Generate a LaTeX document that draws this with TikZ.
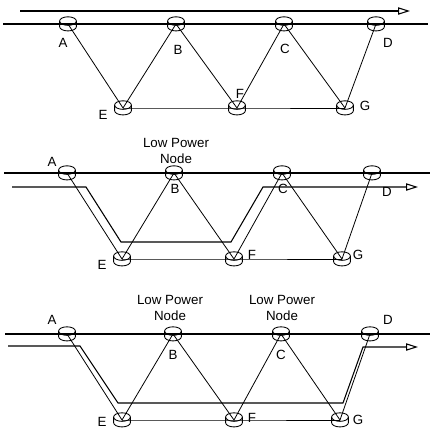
\documentclass[tikz,border=0pt]{standalone}
\usepackage{fontspec}
\setmainfont{Liberation Sans}
\usetikzlibrary{arrows.meta}
\tikzset{
  link/.style={line width=0.6pt, black},
  bus/.style={line width=0.8pt, black},
  route/.style={line width=0.8pt, black, -{Triangle[open, length=9pt, width=5.5pt]}},
  lbl/.style={font=\fontsize{10}{12}\selectfont, inner sep=0pt},
  lp/.style={font=\fontsize{10}{12}\selectfont, align=center, inner sep=0pt},
  puck/.pic={
    \draw[line width=0.65pt, black] (-6.3pt,2.2pt) -- (-6.3pt,-2pt)
      arc[start angle=180, end angle=360, x radius=6.3pt, y radius=3.2pt] -- (6.3pt,2.2pt);
    \draw[line width=0.65pt, black] (0pt,2.2pt) ellipse [x radius=6.3pt, y radius=3.2pt];
  }
}
\begin{document}
\begin{tikzpicture}[x=0.75pt, y=-0.75pt]
\useasboundingbox (0,0) rectangle (433,430);

% ---------- Panel 1 ----------
\coordinate (A1) at (68,24);  \coordinate (B1) at (176,24);
\coordinate (C1) at (284,24); \coordinate (D1) at (376,24);
\coordinate (E1) at (123,108); \coordinate (F1) at (237,108); \coordinate (G1) at (345,108);
\coordinate (L1s) at (3,24); \coordinate (L1e) at (428,24);
\coordinate (R1s) at (20,11); \coordinate (R1e) at (410,11);

\draw[bus] (L1s) -- (L1e);
\draw[route] (R1s) -- (R1e);
\draw[link] (A1) -- (E1) -- (B1) -- (F1) -- (C1) -- (G1) -- (D1);
\draw[link] (E1) -- (F1) -- (G1);
\foreach \n in {A1,B1,C1,D1,E1,F1,G1} \pic at (\n) {puck};

\node[lbl] (tA1) at (63,43) {A};
\node[lbl] (tB1) at (178,50) {B};
\node[lbl] (tC1) at (285,49) {C};
\node[lbl] (tD1) at (388,43) {D};
\node[lbl] (tE1) at (103,115) {E};
\node[lbl] (tF1) at (240,94) {F};
\node[lbl] (tG1) at (365,106) {G};

% ---------- Panel 2 ----------
\coordinate (A2) at (67,173);  \coordinate (B2) at (174,173);
\coordinate (C2) at (282,173); \coordinate (D2) at (372,173);
\coordinate (E2) at (122,259); \coordinate (F2) at (234,259); \coordinate (G2) at (342,259);
\coordinate (L2s) at (4,173); \coordinate (L2e) at (430,173);
\coordinate (P2a) at (12,187); \coordinate (P2b) at (86,187);
\coordinate (P2c) at (121,242); \coordinate (P2d) at (231,242);
\coordinate (P2e) at (263,187); \coordinate (P2f) at (418,187);

\draw[bus] (L2s) -- (L2e);
\draw[route] (P2a) -- (P2b) -- (P2c) -- (P2d) -- (P2e) -- (P2f);
\draw[link] (A2) -- (E2) -- (B2) -- (F2) -- (C2) -- (G2) -- (D2);
\draw[link] (E2) -- (F2) -- (G2);
\foreach \n in {A2,B2,C2,D2,E2,F2,G2} \pic at (\n) {puck};

\node[lp] (lpB2) at (176,151) {Low Power\\Node};
\node[lbl] (tA2) at (52,162) {A};
\node[lbl] (tB2) at (175,189) {B};
\node[lbl] (tC2) at (283,189) {C};
\node[lbl] (tD2) at (387,192) {D};
\node[lbl] (tE2) at (102,265) {E};
\node[lbl] (tF2) at (252,255) {F};
\node[lbl] (tG2) at (358,255) {G};

% ---------- Panel 3 ----------
\coordinate (A3) at (67,334);  \coordinate (B3) at (173,334);
\coordinate (C3) at (281,334); \coordinate (D3) at (370,334);
\coordinate (E3) at (122,420); \coordinate (F3) at (234,420); \coordinate (G3) at (340,420);
\coordinate (L3s) at (5,334); \coordinate (L3e) at (430,334);
\coordinate (P3a) at (8,346); \coordinate (P3b) at (80,346);
\coordinate (P3c) at (118,403); \coordinate (P3d) at (343,403);
\coordinate (P3e) at (363,347); \coordinate (P3f) at (418,347);

\draw[bus] (L3s) -- (L3e);
\draw[route] (P3a) -- (P3b) -- (P3c) -- (P3d) -- (P3e) -- (P3f);
\draw[link] (A3) -- (E3) -- (B3) -- (F3) -- (C3) -- (G3) -- (D3);
\draw[link] (E3) -- (F3) -- (G3);
\foreach \n in {A3,B3,C3,D3,E3,F3,G3} \pic at (\n) {puck};

\node[lp] (lpB3) at (170,308) {Low Power\\Node};
\node[lp] (lpC3) at (282,308) {Low Power\\Node};
\node[lbl] (tA3) at (52,320) {A};
\node[lbl] (tB3) at (173,355) {B};
\node[lbl] (tC3) at (281,355) {C};
\node[lbl] (tD3) at (388,320) {D};
\node[lbl] (tE3) at (102,422) {E};
\node[lbl] (tF3) at (252,418) {F};
\node[lbl] (tG3) at (358,420) {G};
\end{tikzpicture}
\end{document}
